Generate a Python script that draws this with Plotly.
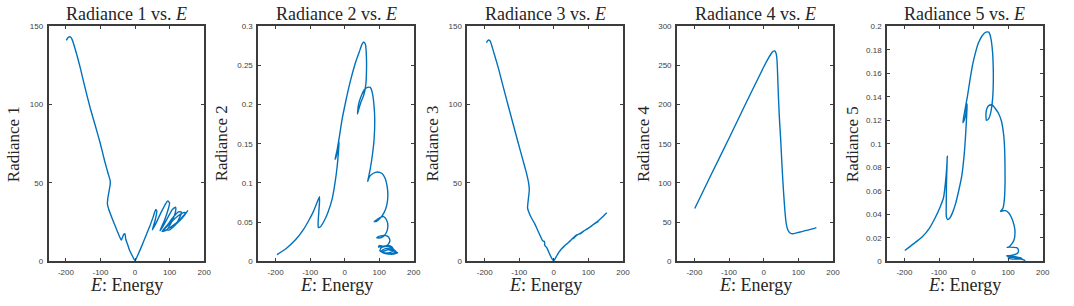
import plotly.graph_objects as go

W, H = 1074, 306

# ---------------- data ----------------
E1 = [-199, -195, -190, -186, -182, -170, -158, -145, -130, -115, -101, -88, -78, -72, -72, -75, -79, -80, -76,
      -64, -52, -40, -33, -29, -27, -22, -16, -8, 0,
      8, 18, 30, 42, 52, 60, 63, 58, 50, 60, 75, 88, 95, 100, 97, 85, 72, 80, 95, 108, 117, 118, 110, 92, 78,
      95, 112, 125, 134, 133, 120, 100, 85, 105, 125, 140, 146, 140, 120, 98, 120, 140, 153]
R1 = [141, 142.5, 143.3, 143, 141.5, 133, 123, 111, 98, 86.5, 75.5, 64, 56, 51.5, 49, 45, 40, 36.5, 33,
      26, 19.5, 13.5, 17, 17.5, 14, 11, 7, 3.5, 0.3,
      4, 9, 15.5, 22, 28, 33, 32, 26, 20, 24, 31, 36.5, 38.5, 37, 34, 26, 19.5, 22, 28, 33, 34.5, 33, 27, 20, 19,
      23.5, 28.5, 31.5, 31.5, 30, 24, 20, 20, 25, 29, 31, 31, 29, 24.5, 21, 24, 28.5, 32.5]

E2 = [-196, -170, -143, -120, -104, -90, -80, -73, -73, -75, -77, -76, -70, -60, -48, -36, -28, -22, -18, -16,
      -19, -25, -28, -22, -15, -8, 3, 13, 23, 33, 42, 50, 55, 60, 63, 63, 61, 55, 47, 40, 37, 40, 47, 57, 66,
      74, 80, 85, 87, 85, 80, 74, 68, 66.5, 72, 82, 95, 108, 117, 123, 125, 122, 114, 103, 92, 85, 93, 103,
      113, 121, 125, 120, 110, 98, 93, 102, 115, 127, 131, 125, 112, 100, 98, 110, 125, 137, 142, 130, 112,
      102, 105, 120, 138, 148, 135, 115, 105, 118, 135, 148, 152, 140, 120, 110, 125, 145, 154]
R2 = [0.0083, 0.016, 0.027, 0.040, 0.052, 0.064, 0.075, 0.0825, 0.075, 0.062, 0.048, 0.043, 0.044, 0.051,
      0.063, 0.080, 0.100, 0.120, 0.140, 0.153, 0.145, 0.133, 0.130, 0.142, 0.160, 0.180, 0.204, 0.224, 0.241,
      0.256, 0.267, 0.277, 0.280, 0.277, 0.260, 0.240, 0.225, 0.212, 0.203, 0.193, 0.188, 0.200, 0.210, 0.219,
      0.222, 0.222, 0.215, 0.198, 0.180, 0.155, 0.135, 0.118, 0.105, 0.102, 0.108, 0.112, 0.114, 0.112, 0.106,
      0.095, 0.085, 0.072, 0.062, 0.055, 0.051, 0.0505, 0.053, 0.056, 0.057, 0.053, 0.045, 0.036, 0.031, 0.0295,
      0.030, 0.032, 0.033, 0.031, 0.026, 0.021, 0.019, 0.020, 0.018, 0.019, 0.020, 0.018, 0.014, 0.011, 0.011,
      0.013, 0.017, 0.019, 0.016, 0.012, 0.0095, 0.010, 0.0125, 0.016, 0.015, 0.012, 0.0105, 0.009, 0.010,
      0.012, 0.0145, 0.013, 0.0103]

E3 = [-195, -191, -188, -184, -172, -160, -146, -131, -117, -103, -90, -80, -73, -71, -73, -75, -76, -68, -55,
      -42, -32, -27, -26, -20, -12, -5, 0, 6, 14, 22, 31, 40, 50, 59, 66, 60, 55, 65, 78, 88, 82, 76, 87, 98,
      108, 100, 95, 106, 117, 128, 120, 115, 127, 140, 150, 153]
R3 = [139.5, 141, 141.3, 140.5, 132, 123, 111, 98.5, 87, 75.5, 65, 57, 50, 45.5, 41, 37, 34, 29, 23.8,
      17.5, 13, 12.5, 10, 8.5, 4.5, 1.5, 0.3, 2.5, 5.5, 7.8, 9.8, 11.5, 13.5, 15.5, 17, 15.2, 14.3, 16.3, 18,
      19.5, 18.3, 17.5, 19.3, 20.8, 22.3, 21.2, 20.3, 22, 23.8, 25.3, 24.3, 23.5, 25.5, 28, 30.3, 31]

E4 = [-199, -150, -100, -50, 0, 12, 20, 27, 32, 36, 38.5, 40, 42, 45, 49, 53, 57, 61, 65, 70, 76, 84, 95,
      110, 130, 152]
R4 = [67.3, 112, 157, 203, 248, 258, 264, 268, 268.5, 265, 256, 240, 215, 185, 155, 120, 90, 65, 48, 39.5,
      36, 35, 36.2, 37.8, 40, 43]

E5 = [-199, -175, -149, -128, -111, -97, -87, -81, -77, -76, -77, -78.5, -79, -78.8, -75, -68, -60, -52, -43,
      -34, -28, -24, -21, -19, -19, -22, -27, -31, -26, -18, -10, -3, 5, 14, 25, 36, 44, 50, 55, 57, 57, 55,
      50, 43, 37, 36, 40, 47, 55, 63, 72, 80, 87, 90, 91, 91, 89, 85, 78, 85, 93, 102, 110, 117, 120, 117,
      110, 102, 97, 105, 115, 125, 130, 128, 118, 104, 96, 105, 120, 135, 140, 125, 108, 100, 110, 130, 145,
      150]
R5 = [0.0091, 0.0145, 0.0206, 0.028, 0.037, 0.046, 0.054, 0.068, 0.083, 0.0894, 0.080, 0.065, 0.050, 0.038,
      0.0355, 0.037, 0.042, 0.049, 0.060, 0.0729, 0.088, 0.103, 0.118, 0.130, 0.134, 0.126, 0.120, 0.118,
      0.127, 0.140, 0.155, 0.167, 0.177, 0.1857, 0.192, 0.195, 0.195, 0.190, 0.178, 0.164, 0.150, 0.138,
      0.127, 0.121, 0.120, 0.126, 0.131, 0.133, 0.133, 0.130, 0.126, 0.120, 0.108, 0.095, 0.080, 0.065, 0.052,
      0.045, 0.0425, 0.043, 0.043, 0.041, 0.037, 0.031, 0.025, 0.018, 0.0145, 0.012, 0.0118, 0.012, 0.0118,
      0.0115, 0.0095, 0.007, 0.0055, 0.0048, 0.0047, 0.004, 0.0038, 0.003, 0.0022, 0.0018, 0.002, 0.0028,
      0.0033, 0.0025, 0.0012, 0.0005]

X_TICKS = [-200, -100, 0, 100, 200]
X_TICKTEXT = ['-200', '-100', '0', '100', '200']
Y_TICKS = [
    [0, 50, 100, 150],
    [0, 0.05, 0.1, 0.15, 0.2, 0.25, 0.3],
    [0, 50, 100, 150],
    [0, 50, 100, 150, 200, 250, 300],
    [0, 0.02, 0.04, 0.06, 0.08, 0.1, 0.12, 0.14, 0.16, 0.18, 0.2],
]
Y_TICKTEXT = [
    ['0', '50', '100', '150'],
    ['0', '0.05', '0.1', '0.15', '0.2', '0.25', '0.3'],
    ['0', '50', '100', '150'],
    ['0', '50', '100', '150', '200', '250', '300'],
    ['0', '0.02', '0.04', '0.06', '0.08', '0.1', '0.12', '0.14', '0.16', '0.18', '0.2'],
]
Y_RANGES = [[0, 150], [0, 0.3], [0, 150], [0, 300], [0, 0.2]]
TITLES = ['Radiance 1 vs. <i>E</i>', 'Radiance 2 vs. <i>E</i>', 'Radiance 3 vs. <i>E</i>',
          'Radiance 4 vs. <i>E</i>', 'Radiance 5 vs. <i>E</i>']
YLABELS = ['Radiance 1', 'Radiance 2', 'Radiance 3', 'Radiance 4', 'Radiance 5']
XLABEL = '<i>E</i>: Energy'

SERIES = [(E1, R1), (E2, R2), (E3, R3), (E4, R4), (E5, R5)]

# ---------------- layout geometry (pixels) ----------------
BOX_X = [(49, 205.5), (260, 416.5), (470.5, 627), (681.5, 838.5), (893, 1049.5)]
BOX_TOP, BOX_BOT = 23, 265
YLABEL_X = [13.5, 223, 435.5, 647.5, 858]

AX_COLOR = '#3c3c3c'
LINE_COLOR = '#0072BD'
SERIF = 'Liberation Serif'
SANS = 'Liberation Sans'

fig = go.Figure()
layout = dict(width=W, height=H, margin=dict(l=0, r=0, t=0, b=0),
              paper_bgcolor='white', plot_bgcolor='white', showlegend=False)
annotations = []

ydom = [(H - BOX_BOT) / H, (H - BOX_TOP) / H]
for i, (ex, ry) in enumerate(SERIES):
    k = '' if i == 0 else str(i + 1)
    fig.add_trace(go.Scatter(x=ex, y=ry, mode='lines', xaxis='x' + k, yaxis='y' + k,
                             line=dict(color=LINE_COLOR, width=1.4, shape='spline', smoothing=0.5),
                             hoverinfo='skip'))
    x0, x1 = BOX_X[i]
    common = dict(ticks='inside', ticklen=3, tickwidth=1, tickcolor=AX_COLOR,
                  showline=True, linecolor=AX_COLOR, linewidth=1.8, mirror='ticks',
                  showgrid=False, zeroline=False,
                  tickfont=dict(family=SANS, size=8, color='#404040'))
    layout['xaxis' + k] = dict(domain=[x0 / W, x1 / W], range=[-250, 200], tickvals=X_TICKS,
                               ticktext=X_TICKTEXT, anchor='y' + k, ticklabelstandoff=2, **common)
    layout['yaxis' + k] = dict(domain=ydom, range=Y_RANGES[i], tickvals=Y_TICKS[i],
                               ticktext=Y_TICKTEXT[i], anchor='x' + k, ticklabelstandoff=2, **common)
    cx = (x0 + x1) / 2 / W
    annotations.append(dict(text=TITLES[i], x=cx, y=(H - 10) / H, xref='paper', yref='paper',
                            xanchor='center', yanchor='middle', showarrow=False,
                            font=dict(family=SERIF, size=18, color='#262626')))
    annotations.append(dict(text=XLABEL, x=cx, y=(H - 290) / H, xref='paper', yref='paper',
                            xanchor='center', yanchor='middle', showarrow=False,
                            font=dict(family=SERIF, size=18, color='#262626')))
    annotations.append(dict(text=YLABELS[i], x=YLABEL_X[i] / W, y=(H - (BOX_TOP + BOX_BOT) / 2) / H,
                            xref='paper', yref='paper', xanchor='center', yanchor='middle',
                            textangle=-90, showarrow=False,
                            font=dict(family=SERIF, size=17, color='#262626')))

layout['annotations'] = annotations
fig.update_layout(**layout)
fig.write_html('out.html')
